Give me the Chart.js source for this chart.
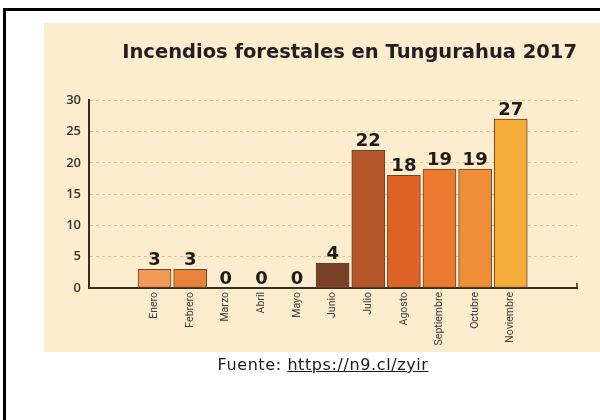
<!DOCTYPE html>
<html>
<head>
<meta charset="utf-8">
<script src="https://cdn.jsdelivr.net/npm/chart.js@4/dist/chart.umd.min.js"></script>
<style>
  html, body { margin:0; padding:0; background:#fff; }
  #wrap { position:relative; width:600px; height:420px; overflow:hidden; }
  #frame { position:absolute; left:3px; top:8px; width:620px; height:430px; border-top:3px solid #000; border-left:3px solid #000; }
  #panel { position:absolute; left:44px; top:23px; width:556px; height:329px; background:#FCEDCF; }
  #c { position:absolute; left:0; top:0; }
  #src { position:absolute; left:0; width:646px; top:355px; text-align:center; font-family:'DejaVu Sans', sans-serif; font-size:16px; letter-spacing:0.6px; color:#1a1a1a; }
  #src span { text-decoration:underline; }
</style>
</head>
<body>
<div id="wrap">
  <div id="frame"></div>
  <div id="panel"></div>
  <canvas id="c" width="600" height="420"></canvas>
  <div id="src">Fuente: <span>https://n9.cl/zyir</span></div>
</div>
<script>
const months = ['Enero','Febrero','Marzo','Abril','Mayo','Junio','Julio','Agosto','Septiembre','Octubre','Noviembre'];
const fires = [3, 3, 0, 0, 0, 4, 22, 18, 19, 19, 27];
const barColors = ['#F09A55','#E9823A','#E9823A','#E9823A','#E9823A','#7A4028','#B5552A','#DF6225','#EC7A30','#F08E38','#F3AD38'];
const yTicks = [0, 5, 10, 15, 20, 25, 30];

const points = months.map((m, i) => ({ x: i, y: fires[i] }));

const valueLabels = {
  id: 'valueLabels',
  afterDatasetsDraw(chart) {
    const ctx = chart.ctx;
    const meta = chart.getDatasetMeta(0);
    ctx.save();
    ctx.font = '900 18px "DejaVu Sans", sans-serif';
    ctx.fillStyle = '#1e1a17';
    ctx.textAlign = 'center';
    ctx.textBaseline = 'alphabetic';
    meta.data.forEach((bar, i) => {
      ctx.fillText(String(fires[i]), bar.x, bar.y - 4);
    });
    const a = chart.chartArea;
    ctx.strokeStyle = '#3B2A1E';
    ctx.lineWidth = 1.5;
    ctx.beginPath();
    ctx.moveTo(a.right, a.bottom);
    ctx.lineTo(a.right, a.bottom - 5);
    ctx.stroke();
    ctx.restore();
  }
};

new Chart(document.getElementById('c'), {
  type: 'bar',
  data: {
    datasets: [{
      data: points,
      backgroundColor: barColors,
      borderColor: '#6A4328',
      borderWidth: 1,
      borderSkipped: false,
      barThickness: 33
    }]
  },
  options: {
    responsive: false,
    animation: false,
    layout: { padding: { left: 44, right: 23, top: 23, bottom: 40 } },
    plugins: {
      legend: { display: false },
      tooltip: { enabled: false },
      title: {
        display: true,
        text: 'Incendios forestales en Tungurahua 2017',
        align: 'end',
        color: '#231F20',
        font: { family: '"DejaVu Sans", sans-serif', size: 19.5, weight: 'bold' },
        padding: { top: 18, bottom: 36 }
      }
    },
    scales: {
      x: {
        type: 'linear',
        offset: false,
        min: -1.84,
        max: 11.86,
        afterFit: s => { s.height = 92; },
        grid: { display: false, drawTicks: false },
        border: { display: true, color: '#3B2A1E', width: 2 },
        ticks: {
          stepSize: 1,
          includeBounds: false,
          autoSkip: false,
          minRotation: 90,
          maxRotation: 90,
          padding: 4,
          color: '#3a3a3a',
          font: { family: '"Liberation Sans Narrow", "Roboto", sans-serif', size: 10.5 },
          callback: v => (Number.isInteger(v) && v >= 0 && v < months.length) ? months[v] : ''
        }
      },
      y: {
        min: 0,
        max: 30,
        afterFit: s => { s.width = 45; },
        afterBuildTicks: s => { s.ticks = yTicks.map(v => ({ value: v })); },
        grid: { color: '#EBBB8C', lineWidth: 1, drawTicks: false },
        border: { display: true, color: '#3B2A1E', width: 2, dash: [3, 3] },
        ticks: {
          padding: 8,
          color: '#333',
          font: { family: '"Open Sans", sans-serif', size: 13, weight: '600' }
        }
      }
    }
  },
  plugins: [valueLabels]
});
</script>
</body>
</html>
